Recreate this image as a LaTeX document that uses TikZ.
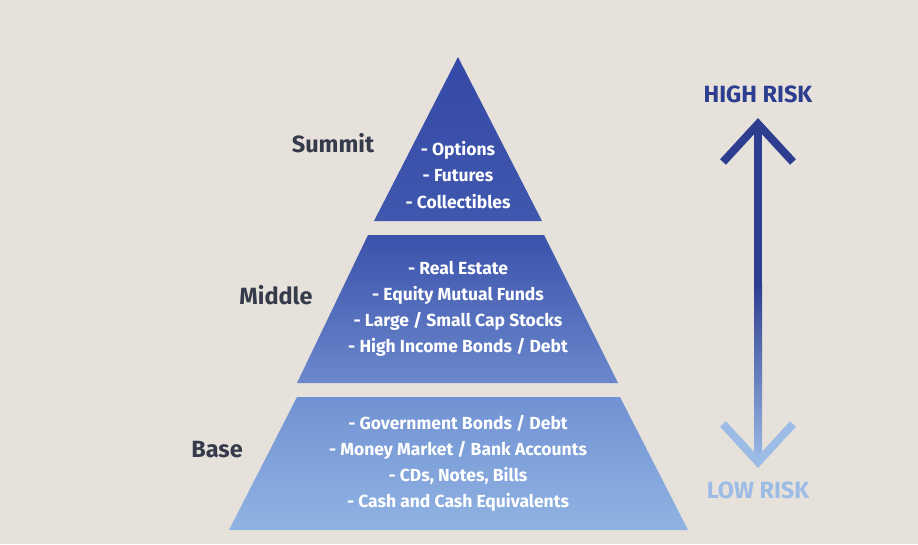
\documentclass[tikz,border=0pt]{standalone}
\usepackage{fontspec}
\setmainfont{Fira Sans}
\begin{document}
\begin{tikzpicture}[x=1pt,y=-1pt,
  item/.style={text=white,font=\fontsize{17.5}{17.5}\selectfont\bfseries,anchor=center,inner sep=0pt},
  tier/.style={text=labgray,font=\fontsize{23.5}{23.5}\selectfont\bfseries,anchor=center,inner sep=0pt},
  risk/.style={font=\fontsize{23.5}{23.5}\selectfont\bfseries,anchor=center,inner sep=0pt}]
\definecolor{bg}{HTML}{E6E2DB}
\definecolor{labgray}{HTML}{363B4C}
\definecolor{c1}{HTML}{3549A6}
\definecolor{c2}{HTML}{3B52AB}
\definecolor{c3}{HTML}{6B88CC}
\definecolor{c4}{HTML}{7192D2}
\definecolor{c5}{HTML}{90B3E3}
\definecolor{hi}{HTML}{2D3E90}
\definecolor{lo}{HTML}{9CBCE6}
\fill[bg] (0,0) rectangle (918,544);
\useasboundingbox (0,0) rectangle (918,544);
% pyramid
\shade[top color=c1,bottom color=c2!90!c3] (458,57) -- (542,221) -- (374,221) -- cycle;
\shade[top color=c2,bottom color=c3] (368,235) -- (544,235) -- (618,383) -- (297,383) -- cycle;
\shade[top color=c4,bottom color=c5] (297,397) -- (620,397) -- (688,530) -- (229,530) -- cycle;
% summit items
\node[item] (s1) at (458,150) {- Options};
\node[item] (s2) at (458,176) {- Futures};
\node[item] (s3) at (458,202) {- Collectibles};
% middle items
\node[item] (m1) at (458,268) {- Real Estate};
\node[item] (m2) at (458,295) {- Equity Mutual Funds};
\node[item] (m3) at (458,321) {- Large / Small Cap Stocks};
\node[item] (m4) at (458,347) {- High Income Bonds / Debt};
% base items
\node[item] (b1) at (458,423) {- Government Bonds / Debt};
\node[item] (b2) at (458,450) {- Money Market / Bank Accounts};
\node[item] (b3) at (458,476) {- CDs, Notes, Bills};
\node[item] (b4) at (458,502) {- Cash and Cash Equivalents};
% tier labels
\node[tier] (summit) at (333,143) {Summit};
\node[tier] (middle) at (276,295) {Middle};
\node[tier] (base) at (217,450) {Base};
% risk arrow
\node[risk,text=hi] (high) at (758,94) {HIGH RISK};
\node[risk,text=lo] (low) at (758,490) {LOW RISK};
\coordinate (top) at (758,124);
\coordinate (mid) at (758,285);
\coordinate (bot) at (758,462);
\fill[hi] ([xshift=-4]top) rectangle ([xshift=4]mid);
\shade[top color=hi,middle color=hi!45!lo,bottom color=lo] ([xshift=-4,yshift=0.5]mid) rectangle ([xshift=4]bot);
\draw[hi,line width=8,line join=miter] ([xshift=-35,yshift=-38]top) -- (top) -- ([xshift=35,yshift=-38]top);
\draw[lo,line width=8,line join=miter] ([xshift=-35,yshift=38]bot) -- (bot) -- ([xshift=35,yshift=38]bot);
\end{tikzpicture}
\end{document}
